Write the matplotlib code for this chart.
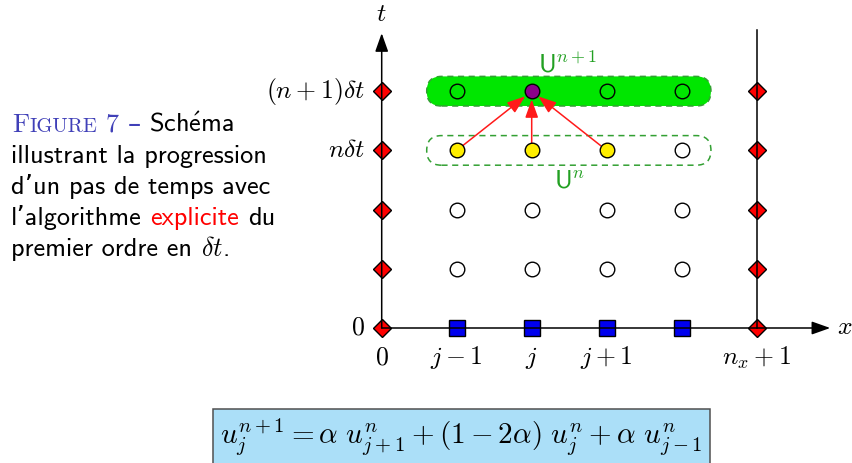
import matplotlib
matplotlib.use("Agg")
import matplotlib.pyplot as plt
from matplotlib.patches import FancyBboxPatch, Rectangle

plt.rcParams['mathtext.fontset'] = 'cm'
plt.rcParams['font.family'] = ['cmss10', 'DejaVu Sans']

# grid of the scheme: columns (space index) and rows (time index)
inner_cols = [1, 2, 3, 4]
bound_cols = [0, 5]
rows = [0, 1, 2, 3, 4]
x_tick_pos = [0, 1, 2, 3, 5]
x_tick_labels = ['$0$', '$j-1$', '$j$', '$j+1$', '$n_x+1$']
t_tick_pos = [0, 3, 4]
t_tick_labels = ['$0$', r'$n\delta t$', r'$(n+1)\delta t$']

empty_rows = [1, 2]          # rows with open circles everywhere
row_n, row_np1 = 3, 4
stencil_cols = [1, 2, 3]     # j-1, j, j+1 at time n (yellow)
target_col = 2               # j at time n+1 (purple)

W, H = 852, 463
fig = plt.figure(figsize=(W / 100, H / 100), dpi=100)
ax = fig.add_axes([0, 0, 1, 1])
x0_px, dx_px = 381.7, 75.0
y0_px, dy_px = 328.0, 59.2
ax.set_xlim(-x0_px / dx_px, (W - x0_px) / dx_px)
ax.set_ylim(-(H - y0_px) / dy_px, y0_px / dy_px)
ax.axis('off')
aspect = dx_px / dy_px
lab_fs = 18.5

# rounded groups U^n and U^{n+1}
for r, fc in [(row_np1, '#00e600'), (row_n, 'none')]:
    box = FancyBboxPatch((inner_cols[0] - 0.4, r - 0.25), inner_cols[-1] - inner_cols[0] + 0.79, 0.5,
                         boxstyle='round,pad=0,rounding_size=0.197', mutation_aspect=aspect,
                         fc=fc, ec='#33a033', ls=(0, (4, 3)), lw=1.1, zorder=1)
    ax.add_patch(box)
ax.text(2.484, row_np1 + 0.31, r'$\mathsf{U}^{n+1}$', color='#22a022', fontsize=lab_fs,
        ha='center', va='baseline')
ax.text(2.5, row_n - 0.62, r'$\mathsf{U}^{n}$', color='#22a022', fontsize=lab_fs,
        ha='center', va='baseline')

# axes of the diagram
arr = dict(arrowstyle='-|>,head_length=0.45,head_width=0.16', color='black', lw=1.1,
           shrinkA=0, shrinkB=0, mutation_scale=25)
ax.annotate('', xy=(0, 4.98), xytext=(0, 0), arrowprops=arr, zorder=5)
ax.annotate('', xy=(5.98, 0), xytext=(0, 0), arrowprops=arr, zorder=5)
ax.plot([5, 5], [0, 5.03], color='black', lw=1.1, zorder=5)
ax.text(0, 5.30, '$t$', fontsize=lab_fs, ha='center', va='center')
ax.text(6.18, 0, '$x$', fontsize=lab_fs, ha='center', va='center')
for p, s in zip(x_tick_pos, x_tick_labels):
    ax.text(p, -0.5, s, fontsize=lab_fs, ha='center', va='center')
for p, s in zip(t_tick_pos, t_tick_labels):
    ax.text(-0.22, p, s, fontsize=lab_fs, ha='right', va='center')

# boundary nodes and initial condition
for c in bound_cols:
    ax.plot([c] * len(rows), rows, ls='none', marker='D', ms=9, mfc='red', mec='black', mew=1, zorder=4)
ax.plot(inner_cols, [0] * len(inner_cols), ls='none', marker='s', ms=11, mfc='#0000ee', mec='black',
        mew=1, zorder=4)

# interior nodes
circ = dict(ls='none', marker='o', ms=10.5, mec='black', mew=1, zorder=6)
for r in empty_rows:
    ax.plot(inner_cols, [r] * len(inner_cols), mfc='white', **circ)
other_n = [c for c in inner_cols if c not in stencil_cols]
ax.plot(stencil_cols, [row_n] * len(stencil_cols), mfc='#ffee00', **circ)
ax.plot(other_n, [row_n] * len(other_n), mfc='white', **circ)
other_np1 = [c for c in inner_cols if c != target_col]
ax.plot(other_np1, [row_np1] * len(other_np1), mfc='none', **circ)
ax.plot([target_col], [row_np1], mfc='#8b008b', **circ)

for c in stencil_cols:
    ax.annotate('', xy=(target_col, row_np1), xytext=(c, row_n),
                arrowprops=dict(arrowstyle='-|>,head_length=0.5,head_width=0.18', color='#ff1a1a', lw=1.1,
                                shrinkA=5.5, shrinkB=6, mutation_scale=22), zorder=3)

# formula box
fig.patches.append(Rectangle((212.7 / W, 1 - 470 / H), (710 - 212.7) / W, (470 - 409) / H,
                             transform=fig.transFigure, fc='#abdff8', ec='#505050', lw=1.1))
fig.text(461 / W, 1 - 444 / H,
         r'$u_j^{n+1} = \alpha\ u_{j+1}^n + (1-2\alpha)\ u_j^n + \alpha\ u_{j-1}^n$',
         fontsize=21, ha='center', va='baseline')

# caption on the left
rend = fig.canvas.get_renderer()


def width(t):
    return t.get_window_extent(rend).width


def runs(x, y, parts):
    for s, kw in parts:
        if s == ' ':
            a = fig.text(0, 0, 'x x', **kw)
            b = fig.text(0, 0, 'xx', **kw)
            x += width(a) - width(b)
            a.remove()
            b.remove()
            continue
        t = fig.text(x / W, 1 - y / H, s, ha='left', va='baseline', **kw)
        x += width(t)


fs = 18.9
blue = '#4040b8'
serif = dict(family='cmr10', color=blue)
runs(12, 132, [('F', dict(fontsize=fs, **serif)), ('IGURE', dict(fontsize=fs * 0.78, **serif)),
               (' ', dict(fontsize=fs, **serif)), ('7', dict(fontsize=fs, **serif)),
               (' ', dict(fontsize=fs, **serif)), ('–', dict(fontsize=fs, family='DejaVu Sans', color=blue)),
               (' ', dict(fontsize=fs)), (r'$\mathsf{Sch\acute{e}ma}$', dict(fontsize=fs))])
runs(11, 163, [('illustrant la progression', dict(fontsize=fs))])
runs(11, 194, [('d’un pas de temps avec', dict(fontsize=fs))])
runs(11, 225, [('l’algorithme', dict(fontsize=fs)), (' ', dict(fontsize=fs)),
               ('explicite', dict(fontsize=fs, color='red')), (' ', dict(fontsize=fs)),
               ('du', dict(fontsize=fs))])
runs(11, 256, [('premier ordre en', dict(fontsize=fs)), (' ', dict(fontsize=fs)),
               (r'$\delta t$.', dict(fontsize=fs))])

fig.savefig('out.png', dpi=100)
